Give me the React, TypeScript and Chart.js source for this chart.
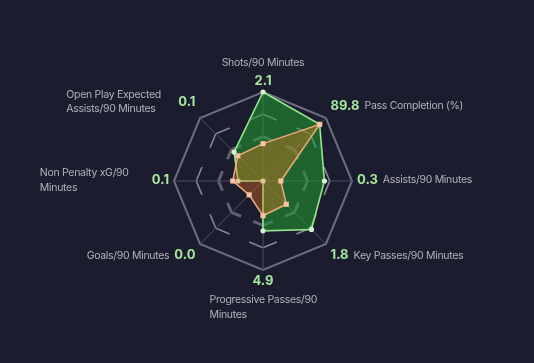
import React, { useEffect, useRef } from "react";
import { Chart, registerables } from "chart.js";

Chart.register(...registerables);

// ---- data ----
const categories: string[][] = [
  ["Shots/90 Minutes"],
  ["Pass Completion (%)"],
  ["Assists/90 Minutes"],
  ["Key Passes/90 Minutes"],
  ["Progressive Passes/90", "Minutes"],
  ["Goals/90 Minutes"],
  ["Non Penalty xG/90", "Minutes"],
  ["Open Play Expected", "Assists/90 Minutes"],
];
const statValues: string[] = ["2.1", "89.8", "0.3", "1.8", "4.9", "0.0", "0.1", "0.1"];
const playerPercentiles: number[] = [100, 90, 69, 77, 56, 0, 28, 46];
const comparisonPercentiles: number[] = [42, 90, 20, 37, 39, 22, 34, 40];
const ringTicks: number[] = [0, 25, 50, 75, 100];

// ---- style ----
const BG = "#1b1c2e";
const VALUE_COLOR = "#a4e69c";
const CAT_COLOR = "#b2b2bb";
const FONT = "Inter, 'DejaVu Sans', sans-serif";

const ringColors = ["rgba(0,0,0,0)", "rgba(0,0,0,0)", "#5f6072", "#868796", "#6c6d7c"];
const ringWidths = [0, 0, 3, 1.6, 2];
const ringArms = [0, 0, 10.5, 15, 0];

const labelPlugin = {
  id: "radarLabels",
  afterDraw(chart: any) {
    const scale = chart.scales.r;
    const ctx = chart.ctx as any;
    const R = scale.drawingArea;
    const valueFont = `bold 13px ${FONT}`;
    const catFont = `10.5px ${FONT}`;
    const catSpacing = "-0.3px";
    const lineH = 14.7;
    const gap = 5;
    const wrapW = 107;
    ctx.save();
    ctx.textBaseline = "middle";
    const setValueFont = () => {
      ctx.font = valueFont;
      ctx.letterSpacing = "0px";
      ctx.fillStyle = VALUE_COLOR;
    };
    const setCatFont = () => {
      ctx.font = catFont;
      ctx.letterSpacing = catSpacing;
      ctx.fillStyle = CAT_COLOR;
    };
    for (let i = 0; i < categories.length; i++) {
      const angle = scale.getIndexAngle(i);
      const sx = Math.sin(angle);
      const sy = -Math.cos(angle);
      const lines = categories[i];
      const val = statValues[i];
      setValueFont();
      const vw = ctx.measureText(val).width;
      setCatFont();
      const lw = lines.length > 1 ? wrapW : ctx.measureText(lines[0]).width;

      if (Math.abs(sx) < 0.01) {
        const p = scale.getPointPosition(i, R + 11);
        setValueFont();
        ctx.textAlign = "center";
        ctx.fillText(val, p.x, p.y);
        setCatFont();
        if (sy < 0) {
          ctx.textAlign = "left";
          for (let j = 0; j < lines.length; j++) {
            const y = p.y - 18.5 - (lines.length - 1 - j) * lineH;
            ctx.fillText(lines[j], p.x - lw / 2, y);
          }
        } else {
          ctx.textAlign = "left";
          const left = p.x - lw / 2;
          for (let j = 0; j < lines.length; j++) {
            ctx.fillText(lines[j], left, p.y + 19.3 + j * lineH);
          }
        }
      } else {
        let p: { x: number; y: number };
        let yc: number;
        if (Math.abs(sy) < 0.01) {
          p = scale.getPointPosition(i, R + 5);
          yc = p.y - 1;
        } else {
          p = scale.getPointPosition(i, R + 6.5);
          yc = p.y + (sy > 0 ? 7 : -(7.5 + (lines.length - 1) * 4));
        }
        let valueX: number;
        let catLeft: number;
        if (sx > 0) {
          valueX = p.x;
          catLeft = p.x + vw + gap;
        } else {
          valueX = p.x - vw;
          catLeft = p.x - vw - gap - lw;
        }
        setValueFont();
        ctx.textAlign = "left";
        ctx.fillText(val, valueX, yc);
        setCatFont();
        for (let j = 0; j < lines.length; j++) {
          const y = yc + (j - (lines.length - 1) / 2) * lineH;
          ctx.fillText(lines[j], catLeft, y);
        }
      }
    }
    ctx.restore();
  },
};

export default function App() {
  const ref = useRef<HTMLCanvasElement | null>(null);

  useEffect(() => {
    document.body.style.margin = "0";
    document.body.style.background = BG;
    const canvas = ref.current;
    if (!canvas) return;
    const chart = new Chart(canvas, {
      type: "radar",
      data: {
        labels: categories.map((c) => c.join(" ")),
        datasets: [
          {
            label: "Comparison",
            data: comparisonPercentiles,
            borderColor: "#eeaa7c",
            borderWidth: 1.5,
            backgroundColor: "rgba(248,118,30,0.36)",
            pointStyle: "rect",
            pointRadius: 3.6,
            pointBorderWidth: 0,
            pointBackgroundColor: "#f6c3a3",
            fill: true,
          },
          {
            label: "Player",
            data: playerPercentiles,
            borderColor: "#96e68e",
            borderWidth: 1.6,
            backgroundColor: "rgba(34,160,48,0.55)",
            pointStyle: "circle",
            pointRadius: 2.6,
            pointBorderWidth: 0,
            pointBackgroundColor: "#d6f4d4",
            fill: true,
          },
        ],
      },
      options: {
        animation: false,
        responsive: true,
        maintainAspectRatio: false,
        layout: { padding: { left: 173, right: 181, top: 92, bottom: 93 } },
        plugins: {
          legend: { display: false },
          tooltip: { enabled: false },
        },
        elements: { line: { tension: 0 } },
        scales: {
          r: {
            min: 0,
            max: 100,
            afterBuildTicks: (s: any) => {
              s.ticks = ringTicks.map((v) => ({ value: v }));
            },
            ticks: { display: false },
            pointLabels: { display: false },
            angleLines: { color: "#4c4d61", lineWidth: 1 },
            grid: {
              color: (c: any) => ringColors[c.index] ?? "rgba(0,0,0,0)",
              lineWidth: (c: any) => ringWidths[c.index] ?? 0,
            },
            border: {
              dash: (c: any) => {
                const arm = ringArms[c.index] ?? 0;
                if (!arm) return [];
                const r = c.scale.getDistanceFromCenterForValue(c.tick.value);
                const side = 2 * r * Math.sin(Math.PI / categories.length);
                return [2 * arm, Math.max(side - 2 * arm, 0)];
              },
              dashOffset: (c: any) => ringArms[c.index] ?? 0,
            },
          } as any,
        },
      },
      plugins: [labelPlugin],
    });
    return () => chart.destroy();
  }, []);

  return (
    <div style={{ position: "fixed", left: 0, top: 0, width: 534, height: 363, background: BG }}>
      <canvas ref={ref} />
    </div>
  );
}
